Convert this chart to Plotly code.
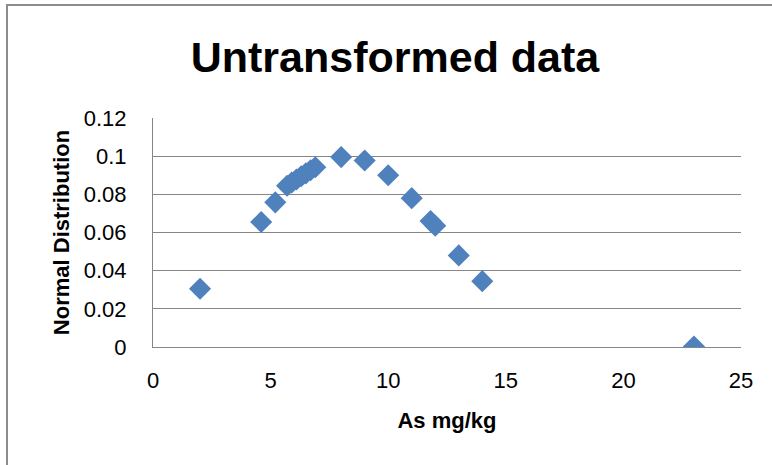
import plotly.graph_objects as go

as_mgkg = [2.0, 4.6, 5.2, 5.7, 5.9, 6.1, 6.3, 6.5, 6.7, 6.9, 8.0, 9.0, 10.0, 11.0, 11.8, 12.0, 13.0, 14.0, 23.0]
normal_dist = [0.0305, 0.0655, 0.0758, 0.0845, 0.0862, 0.0878, 0.0895, 0.0910, 0.0926, 0.0942,
               0.0995, 0.0977, 0.0900, 0.0780, 0.0660, 0.0635, 0.0480, 0.0345, 0.0002]

y_ticks = [0, 0.02, 0.04, 0.06, 0.08, 0.1, 0.12]
y_tick_labels = ["0", "0.02", "0.04", "0.06", "0.08", "0.1", "0.12"]
x_ticks = [0, 5, 10, 15, 20, 25]

FONT = "Liberation Sans, Arial, sans-serif"

fig = go.Figure()
fig.add_trace(go.Scatter(
    x=as_mgkg, y=normal_dist, mode="markers",
    marker=dict(symbol="diamond", size=17, color="#4F81BD", line=dict(width=0)),
    showlegend=False,
))

L, R, T, B = 153, 31, 118, 118
W, H = 772, 465
pw, ph = W - L - R, H - T - B

def px2paper_x(px):
    return (px - L) / pw

def px2paper_y(py):
    return (H - B - py) / ph

fig.update_layout(
    width=W, height=H,
    margin=dict(l=L, r=R, t=T, b=B),
    paper_bgcolor="white", plot_bgcolor="white",
    font=dict(family=FONT, color="black"),
    title=dict(text="<b>Untransformed data</b>", x=395 / W, xanchor="center",
               y=1 - 57 / H, yanchor="middle",
               font=dict(family=FONT, size=43, color="black")),
    xaxis=dict(range=[0, 25], tickvals=x_ticks, showgrid=False, zeroline=False,
               showline=True, linecolor="#868686", linewidth=1,
               ticks="", tickfont=dict(size=22), ticklabelstandoff=14,
               title=dict(text="<b>As mg/kg</b>", font=dict(size=22), standoff=20)),
    yaxis=dict(range=[0, 0.12], tickvals=y_ticks, ticktext=y_tick_labels,
               showgrid=True, gridcolor="#868686", gridwidth=1, zeroline=False,
               showline=True, linecolor="#868686", linewidth=1,
               ticks="", tickfont=dict(size=22), ticklabelstandoff=21,
               title=dict(text="<b>Normal Distribution</b>", font=dict(size=22), standoff=8)),
    shapes=[
        dict(type="line", xref="paper", yref="paper",
             x0=px2paper_x(7), x1=px2paper_x(7), y0=px2paper_y(5), y1=px2paper_y(480),
             line=dict(color="#8C8C8C", width=2)),
        dict(type="line", xref="paper", yref="paper",
             x0=px2paper_x(6), x1=px2paper_x(800), y0=px2paper_y(5), y1=px2paper_y(5),
             line=dict(color="#8C8C8C", width=2)),
    ],
)

fig.write_html("out.html")
